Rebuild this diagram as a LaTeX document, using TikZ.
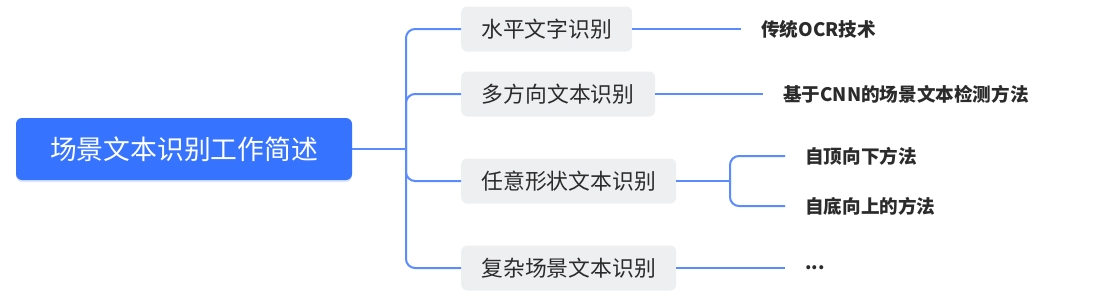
\documentclass[tikz,border=0pt]{standalone}
\usepackage{fontspec}
\setmainfont{Noto Sans CJK SC}
\usetikzlibrary{shadows}
\definecolor{rootblue}{HTML}{3673FF}
\definecolor{linkblue}{HTML}{5A8BFF}
\definecolor{boxgray}{HTML}{EEEFF1}
\definecolor{txt}{HTML}{2B2B2B}
\tikzset{
  rootbox/.style={fill=rootblue, text=white, rounded corners=6pt, minimum height=62pt,
    font=\fontsize{26.8}{30}\selectfont, inner sep=0pt,
    drop shadow={opacity=0.18, shadow xshift=0pt, shadow yshift=-2pt, fill=rootblue}},
  childbox/.style={fill=boxgray, text=txt, rounded corners=6pt, minimum height=45pt,
    font=\fontsize{21.8}{24}\selectfont, inner sep=0pt, anchor=west},
  leaf/.style={text=txt, font=\bfseries\fontsize{18.6}{22}\selectfont, inner sep=0pt, anchor=west},
  link/.style={draw=linkblue, line width=2pt},
  branch/.style={link, rounded corners=9pt},
  toleaf/.style={link, shorten >=20pt}
}
\begin{document}
\begin{tikzpicture}[x=1pt,y=-1pt]
\useasboundingbox (0,0) rectangle (1099,300);
\node[rootbox, minimum width=336pt] (root) at (184,149) {场景文本识别工作简述};
\node[childbox, minimum width=171pt] (c1) at (461,29) {水平文字识别};
\node[childbox, minimum width=194pt] (c2) at (461,94) {多方向文本识别};
\node[childbox, minimum width=215pt] (c3) at (461,181) {任意形状文本识别};
\node[childbox, minimum width=215pt] (c4) at (461,268) {复杂场景文本识别};
\node[leaf] (l1) at (761,29) {传统OCR技术};
\node[leaf] (l2) at (783,94) {基于CNN的场景文本检测方法};
\node[leaf] (l3) at (805,156) {自顶向下方法};
\node[leaf] (l4) at (805,206) {自底向上的方法};
\node[leaf] (l5) at (805,268) {...};
\coordinate (trunk) at (406,149);
\coordinate (split) at (730,181);
\draw[link] (root.east) -- (trunk);
\draw[branch] (trunk) |- (c1.west);
\draw[branch] (trunk) |- (c2.west);
\draw[branch] (trunk) |- (c3.west);
\draw[branch] (trunk) |- (c4.west);
\draw[toleaf] (c1.east) -- (l1.west);
\draw[toleaf] (c2.east) -- (l2.west);
\draw[link] (c3.east) -- (split);
\draw[branch, shorten >=20pt] (split) |- (l3.west);
\draw[branch, shorten >=20pt] (split) |- (l4.west);
\draw[toleaf] (c4.east) -- (l5.west);
\end{tikzpicture}
\end{document}
